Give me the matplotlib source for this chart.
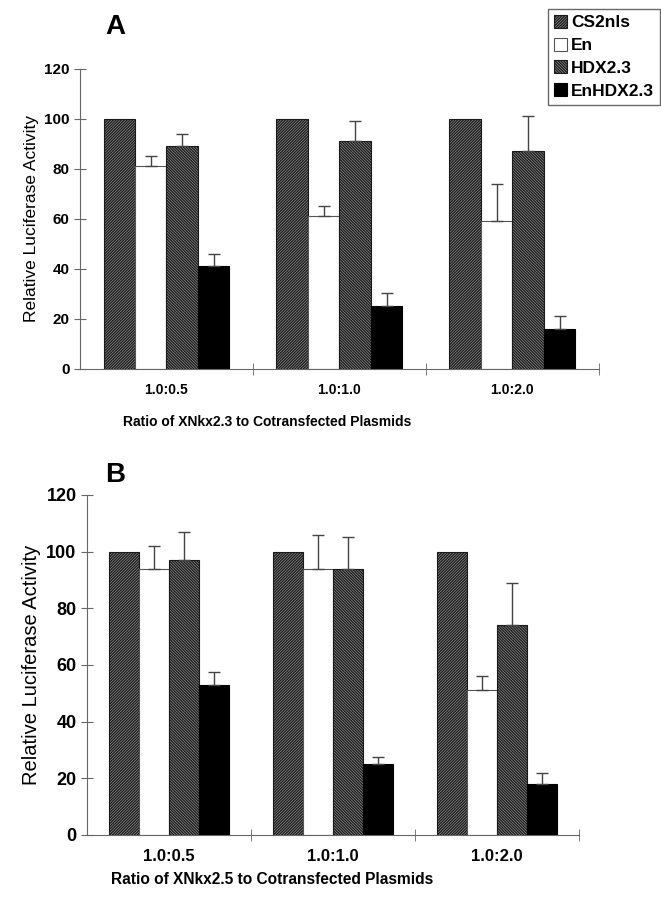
import numpy as np
import matplotlib
matplotlib.use("Agg")
import matplotlib.pyplot as plt
from matplotlib.ticker import FixedLocator, NullFormatter

plt.rcParams['font.family'] = ['Liberation Sans', 'DejaVu Sans']
plt.rcParams['hatch.linewidth'] = 1.0

ratios = ["1.0:0.5", "1.0:1.0", "1.0:2.0"]
series = ["CS2nls", "En", "HDX2.3", "EnHDX2.3"]

# panel A: XNkx2.3
a_cs2 = [100, 100, 100]
a_en = [81, 61, 59]
a_en_err = [4, 4, 15]
a_hdx = [89, 91, 87]
a_hdx_err = [5, 8, 14]
a_enhdx = [41, 25, 16]
a_enhdx_err = [5, 5.5, 5]

# panel B: XNkx2.5
b_cs2 = [100, 100, 100]
b_en = [94, 94, 51]
b_en_err = [8, 12, 5]
b_hdx = [97, 94, 74]
b_hdx_err = [10, 11, 15]
b_enhdx = [53, 25, 18]
b_enhdx_err = [4.5, 2.5, 4]

styles = [
    dict(facecolor="#a8a8a8", edgecolor="#1a1a1a", hatch="/" * 12),
    dict(facecolor="white", edgecolor="#555555", hatch=None),
    dict(facecolor="#a8a8a8", edgecolor="#1a1a1a", hatch="\\" * 12),
    dict(facecolor="black", edgecolor="black", hatch=None),
]


def panel(ax, vals, errs, xlabel, tick_fs, ylab_fs, xlab_fs, w):
    x = np.arange(len(ratios))
    handles = []
    for i, (v, e) in enumerate(zip(vals, errs)):
        off = (i - 1.5) * w
        h = ax.bar(x + off, v, w, linewidth=0.8, label=series[i], **styles[i])
        handles.append(h)
        if e is not None:
            ax.errorbar(x + off, v, yerr=[np.zeros(len(e)), e], fmt="none",
                        ecolor="#444444", elinewidth=1, capsize=4, capthick=1)
    ax.set_xlim(-0.5, 2.5)
    ax.set_ylim(0, 120)
    ax.set_yticks(range(0, 121, 20))
    ax.set_xticks(x)
    ax.set_xticklabels(ratios, fontsize=tick_fs, fontweight="bold")
    ax.tick_params(axis="x", which="major", length=0, pad=10)
    ax.xaxis.set_minor_locator(FixedLocator([0.5, 1.5, 2.5]))
    ax.xaxis.set_minor_formatter(NullFormatter())
    ax.tick_params(axis="x", which="minor", direction="inout", length=8, color="#666666")
    ax.tick_params(axis="y", direction="inout", length=8, color="#666666",
                   labelsize=tick_fs + 1)
    for lab in ax.get_yticklabels():
        lab.set_fontweight("bold")
    ax.spines["top"].set_visible(False)
    ax.spines["right"].set_visible(False)
    ax.spines["left"].set_color("#666666")
    ax.spines["bottom"].set_color("#666666")
    ax.set_ylabel("Relative Luciferase Activity", fontsize=ylab_fs)
    ax.set_xlabel(xlabel, fontsize=xlab_fs, fontweight="bold")
    return handles


fig = plt.figure(figsize=(6.61, 9.01), dpi=100)
ax1 = fig.add_axes([0.121, 0.5905, 0.785, 0.333])
ax2 = fig.add_axes([0.1316, 0.0733, 0.744, 0.3774])

handles = panel(ax1, [a_cs2, a_en, a_hdx, a_enhdx], [None, a_en_err, a_hdx_err, a_enhdx_err],
                "Ratio of XNkx2.3 to Cotransfected Plasmids", 10, 12.5, 10, 0.182)
panel(ax2, [b_cs2, b_en, b_hdx, b_enhdx], [None, b_en_err, b_hdx_err, b_enhdx_err],
      "Ratio of XNkx2.5 to Cotransfected Plasmids", 12, 14.5, 11.2, 0.183)
ax1.xaxis.set_label_coords(0.36, -0.155)
ax2.xaxis.set_label_coords(0.376, -0.11)

fig.text(0.159, 0.970, "A", fontsize=20, fontweight="bold", va="center", ha="left")
fig.text(0.159, 0.473, "B", fontsize=20, fontweight="bold", va="center", ha="left")

fig.legend(handles, series, loc="upper right", bbox_to_anchor=(0.999, 0.990),
           prop=dict(size=12.5, weight="bold"), frameon=True, fancybox=False,
           edgecolor="#444444", handlelength=0.75, handleheight=0.75,
           handletextpad=0.25, labelspacing=0.42, borderpad=0.35, borderaxespad=0)

fig.savefig("out.png", dpi=100)
